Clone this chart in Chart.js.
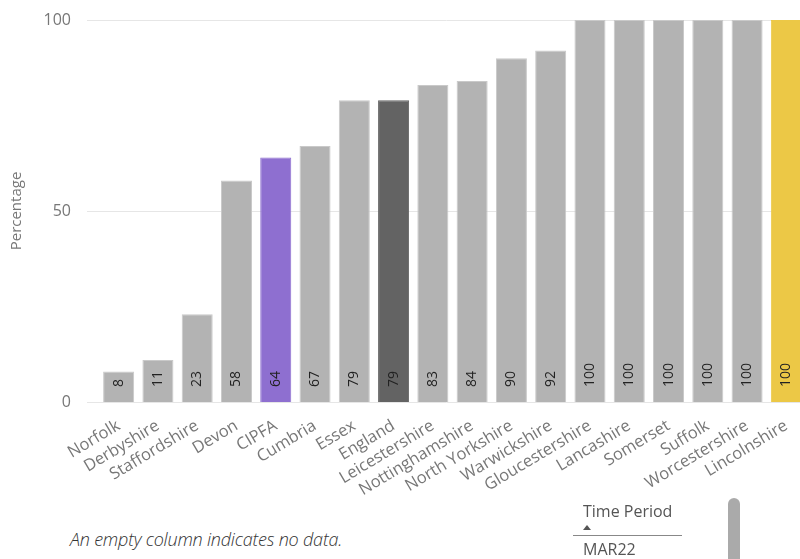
<!DOCTYPE html>
<html>
<head>
<meta charset="utf-8">
<script src="https://cdn.jsdelivr.net/npm/chart.js@4/dist/chart.umd.min.js"></script>
<style>
  html, body { margin: 0; padding: 0; background: #fff; overflow: hidden; width: 800px; height: 559px; }
  #wrap { position: absolute; left: 0; top: 0; width: 810px; height: 510px; }
  .note { position: absolute; left: 70px; top: 527px; font: italic 300 18px "Open Sans", "Noto Sans", sans-serif; color: #333; letter-spacing: -0.2px; }
  .hdr { position: absolute; left: 583px; top: 500px; font: 16px "Open Sans", "Noto Sans", sans-serif; color: #555; }
  .tri { position: absolute; left: 583px; top: 525px; width: 0; height: 0; border-left: 4px solid transparent; border-right: 4px solid transparent; border-bottom: 5px solid #555; }
  .rule { position: absolute; left: 573px; top: 535px; width: 109px; height: 1px; background: #888; }
  .cell { position: absolute; left: 583px; top: 538px; font: 16px "Open Sans", "Noto Sans", sans-serif; color: #555; }
  .scroll { position: absolute; left: 728px; top: 498px; width: 12px; height: 80px; border-radius: 6px; background: #aaa; }
</style>
</head>
<body>
<div id="wrap"><canvas id="c" width="810" height="510"></canvas></div>
<div class="note">An empty column indicates no data.</div>
<div class="hdr">Time Period</div>
<div class="tri"></div>
<div class="rule"></div>
<div class="cell">MAR22</div>
<div class="scroll"></div>
<script>
// Share of cases by area, sorted ascending
const areas = ["Norfolk", "Derbyshire", "Staffordshire", "Devon", "CIPFA", "Cumbria", "Essex", "England",
  "Leicestershire", "Nottinghamshire", "North Yorkshire", "Warwickshire", "Gloucestershire", "Lancashire",
  "Somerset", "Suffolk", "Worcestershire", "Lincolnshire"];
const percentages = [8, 11, 23, 58, 64, 67, 79, 79, 83, 84, 90, 92, 100, 100, 100, 100, 100, 100];
const yTicks = [0, 50, 100];

const GREY = "#b3b3b3";
const highlight = { "CIPFA": "#8e6fd0", "England": "#636363", "Lincolnshire": "#ecc846" };
const barColors = areas.map(a => highlight[a] || GREY);

const FONT = '"Open Sans", "Noto Sans", sans-serif';

// horizontal reference lines, extended slightly left of the plot area
const gridLines = {
  id: "gridLines",
  beforeDatasetsDraw(chart) {
    const { ctx, scales: { y }, chartArea } = chart;
    ctx.save();
    ctx.strokeStyle = "#e6e6e6";
    ctx.lineWidth = 1;
    yTicks.forEach(v => {
      const py = Math.round(y.getPixelForValue(v)) + 0.5;
      ctx.beginPath();
      ctx.moveTo(chartArea.left - 12, py);
      ctx.lineTo(chartArea.right, py);
      ctx.stroke();
    });
    ctx.restore();
  }
};

// vertical value labels at the foot of each bar
const valueLabels = {
  id: "valueLabels",
  afterDatasetsDraw(chart) {
    const { ctx } = chart;
    const meta = chart.getDatasetMeta(0);
    ctx.save();
    ctx.font = "14px " + FONT;
    ctx.fillStyle = "#222";
    ctx.textAlign = "left";
    ctx.textBaseline = "middle";
    meta.data.forEach((bar, i) => {
      ctx.save();
      ctx.translate(bar.x, bar.base - 15);
      ctx.rotate(-Math.PI / 2);
      ctx.fillText(String(percentages[i]), 0, 0);
      ctx.restore();
    });
    ctx.restore();
  }
};

new Chart(document.getElementById("c"), {
  type: "bar",
  data: {
    labels: areas,
    datasets: [{
      data: percentages,
      backgroundColor: barColors,
      borderColor: barColors.map(c => c === GREY ? "#c9c9c9" : c),
      borderWidth: 1,
      categoryPercentage: 1,
      barPercentage: 0.79
    }]
  },
  options: {
    responsive: false,
    animation: false,
    layout: { padding: { top: 20, left: 0, right: 4, bottom: 0 } },
    plugins: { legend: { display: false }, tooltip: { enabled: false } },
    scales: {
      x: {
        grid: { display: false, drawTicks: false },
        border: { display: false },
        ticks: {
          autoSkip: false,
          minRotation: 31,
          maxRotation: 31,
          padding: 14,
          color: "#777",
          font: { family: FONT, size: 16.5 }
        },
        afterFit(scale) {
          scale.height = 108;
          scale.paddingLeft = 0;
          scale.paddingRight = 0;
        }
      },
      y: {
        min: 0,
        max: 100,
        afterBuildTicks(scale) { scale.ticks = yTicks.map(v => ({ value: v })); },
        grid: { display: false, drawTicks: false },
        border: { display: false },
        ticks: { padding: 28, color: "#777", font: { family: FONT, size: 16 } },
        title: { display: true, text: "Percentage", color: "#777", font: { family: FONT, size: 15 }, padding: { top: 8, bottom: 0 } },
        afterFit(scale) {
          scale.width = 99;
          scale.paddingTop = 10;
          scale.paddingBottom = 10;
        }
      }
    }
  },
  plugins: [gridLines, valueLabels]
});
</script>
</body>
</html>
